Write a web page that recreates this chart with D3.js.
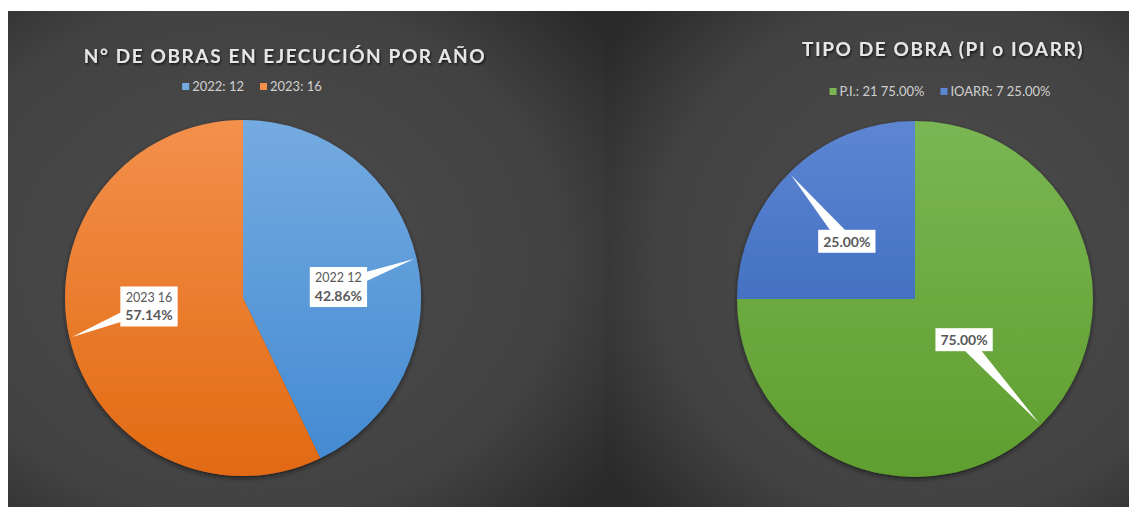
<!DOCTYPE html>
<html>
<head>
<meta charset="utf-8">
<script src="https://cdn.jsdelivr.net/npm/d3@7"></script>
<style>
  body { margin: 0; background: #fff; }
  text { font-family: Lato, "Open Sans", sans-serif; }
</style>
</head>
<body>
<div id="chart"></div>
<script>
// Data
const years = ["2022", "2023"];
const obrasPorAnio = [12, 16];
const tipos = ["P.I.", "IOARR"];
const obrasPorTipo = [21, 7];

const width = 1129, height = 507;
const pct = d3.format(".2%");

const svg = d3.select("#chart").append("svg")
    .attr("width", width)
    .attr("height", height);

const defs = svg.append("defs");

// soft shadows for titles and pies
const titleShadow = defs.append("filter").attr("id", "title-shadow")
    .attr("x", "-10%").attr("y", "-50%").attr("width", "120%").attr("height", "200%");
titleShadow.append("feDropShadow")
    .attr("dx", 1).attr("dy", 1.5).attr("stdDeviation", 1.2)
    .attr("flood-color", "#000").attr("flood-opacity", 0.7);

const pieShadow = defs.append("filter").attr("id", "pie-shadow")
    .attr("x", "-10%").attr("y", "-10%").attr("width", "120%").attr("height", "120%");
pieShadow.append("feDropShadow")
    .attr("dx", 0).attr("dy", 2).attr("stdDeviation", 2)
    .attr("flood-color", "#151515").attr("flood-opacity", 0.8);

// panel backgrounds (dark radial gradient)
function panelGradient(id, cx) {
    const g = defs.append("radialGradient").attr("id", id)
        .attr("cx", cx).attr("cy", "50%").attr("r", "75%");
    g.append("stop").attr("offset", "0%").attr("stop-color", "#4c4c4c");
    g.append("stop").attr("offset", "70%").attr("stop-color", "#424242");
    g.append("stop").attr("offset", "100%").attr("stop-color", "#2a2a2a");
}
panelGradient("bg-left", "40%");
panelGradient("bg-right", "62%");

const panels = [
    { x: 8, y: 11, w: 598, h: 496, fill: "url(#bg-left)" },
    { x: 606, y: 11, w: 523, h: 496, fill: "url(#bg-right)" }
];
svg.selectAll(".panel")
    .data(panels)
    .enter().append("rect")
    .attr("class", "panel")
    .attr("x", d => d.x).attr("y", d => d.y)
    .attr("width", d => d.w).attr("height", d => d.h)
    .attr("fill", d => d.fill);

function drawPie(cfg) {
    const total = d3.sum(cfg.values);
    const items = cfg.names.map((n, i) => ({ name: n, value: cfg.values[i], i }));

    // title
    svg.append("text")
        .attr("x", cfg.titleX).attr("y", cfg.titleY)
        .attr("text-anchor", "middle")
        .attr("font-size", "19px")
        .attr("font-weight", "bold")
        .attr("letter-spacing", "1.6px")
        .attr("fill", "#e6e6e6")
        .attr("filter", "url(#title-shadow)")
        .text(cfg.title);

    // legend
    const legend = svg.append("g");
    let lx = 0;
    items.forEach((d, i) => {
        const item = legend.append("g").attr("transform", `translate(${lx},0)`);
        item.append("rect")
            .attr("x", 0).attr("y", -4)
            .attr("width", 7).attr("height", 7)
            .attr("fill", cfg.colors[i][0]);
        const t = item.append("text")
            .attr("x", 10).attr("y", 4)
            .attr("font-size", "13px")
            .attr("fill", "#d0d0d0")
            .text(cfg.legendText(d, total));
        lx += 10 + t.node().getComputedTextLength() + 16;
    });
    lx -= 16;
    legend.attr("transform", `translate(${cfg.legendX - lx / 2},${cfg.legendY})`);

    // gradients for slices (top to bottom of the pie)
    cfg.colors.forEach((c, i) => {
        const g = defs.append("linearGradient")
            .attr("id", `${cfg.id}-grad-${i}`)
            .attr("gradientUnits", "userSpaceOnUse")
            .attr("x1", 0).attr("y1", -cfg.r)
            .attr("x2", 0).attr("y2", cfg.r);
        g.append("stop").attr("offset", "0%").attr("stop-color", c[0]);
        g.append("stop").attr("offset", "100%").attr("stop-color", c[1]);
    });

    const pie = d3.pie().sort(null).value(d => d.value);
    const arcs = pie(items);
    const arc = d3.arc().innerRadius(0).outerRadius(cfg.r);

    const gPie = svg.append("g")
        .attr("transform", `translate(${cfg.cx},${cfg.cy})`);

    gPie.append("g").attr("filter", "url(#pie-shadow)")
        .selectAll("path")
        .data(arcs)
        .enter().append("path")
        .attr("d", arc)
        .attr("fill", d => `url(#${cfg.id}-grad-${d.index})`);

    // callout labels
    const polar = (a, rr) => [Math.sin(a) * rr, -Math.cos(a) * rr];
    arcs.forEach((d, k) => {
        const mid = (d.startAngle + d.endAngle) / 2;
        const tip = polar(mid, cfg.r * 0.985);
        const center = polar(mid + cfg.labelTurn[k] * Math.PI / 180, cfg.r * cfg.labelRadius[k]);

        const lab = gPie.append("g");
        const lines = cfg.labelText(d.data, total);
        const txt = lab.append("g");
        lines.forEach((ln, j) => {
            txt.append("text")
                .attr("x", center[0])
                .attr("y", center[1] + (j - (lines.length - 1) / 2) * 19 + 5)
                .attr("text-anchor", "middle")
                .attr("font-size", ln.bold ? "14px" : "12.5px")
                .attr("font-weight", ln.bold ? "bold" : "normal")
                .attr("fill", "#595959")
                .text(ln.text);
        });
        const bb = txt.node().getBBox();
        const padX = 5, padY = 3;

        // wedge from the box to the slice edge
        const ang = Math.atan2(tip[1] - center[1], tip[0] - center[0]);
        const hw = 7;
        const b1 = [center[0] + Math.sin(ang) * hw, center[1] - Math.cos(ang) * hw];
        const b2 = [center[0] - Math.sin(ang) * hw, center[1] + Math.cos(ang) * hw];
        lab.insert("path", ":first-child")
            .attr("d", `M${b1}L${tip}L${b2}Z`)
            .attr("fill", "#fff");
        lab.insert("rect", "g")
            .attr("x", bb.x - padX).attr("y", bb.y - padY)
            .attr("width", bb.width + padX * 2).attr("height", bb.height + padY * 2)
            .attr("fill", "#fff");
    });
}

drawPie({
    id: "anio",
    title: "N° DE OBRAS EN EJECUCIÓN POR AÑO",
    titleX: 285, titleY: 63,
    legendX: 252, legendY: 87,
    names: years, values: obrasPorAnio,
    colors: [["#74abe0", "#4289d2"], ["#f3904c", "#e26a12"]],
    cx: 243, cy: 298, r: 178,
    labelRadius: [0.54, 0.53], labelTurn: [6, 8],
    legendText: d => `${d.name}: ${d.value}`,
    labelText: (d, total) => [
        { text: `${d.name} ${d.value}`, bold: false },
        { text: pct(d.value / total), bold: true }
    ]
});

drawPie({
    id: "tipo",
    title: "TIPO DE OBRA (PI o IOARR)",
    titleX: 943, titleY: 56,
    legendX: 940, legendY: 92,
    names: tipos, values: obrasPorTipo,
    colors: [["#7ab653", "#5f9e2f"], ["#5d86d2", "#2c5cb5"]],
    cx: 915, cy: 299, r: 178,
    labelRadius: [0.36, 0.5], labelTurn: [-5, -5],
    legendText: (d, total) => `${d.name}: ${d.value} ${pct(d.value / total)}`,
    labelText: (d, total) => [
        { text: pct(d.value / total), bold: true }
    ]
});
</script>
</body>
</html>
